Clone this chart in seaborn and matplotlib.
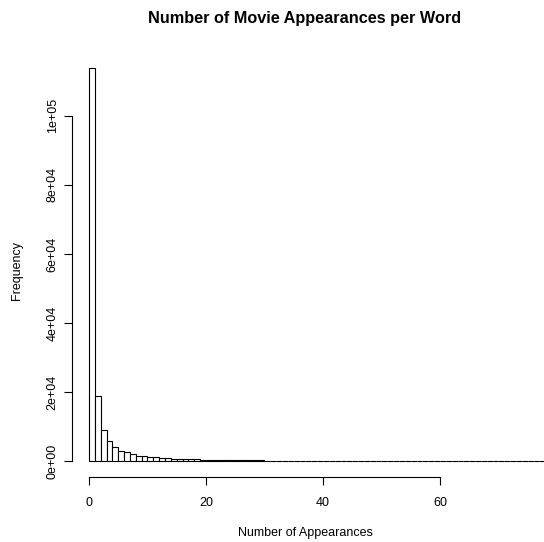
import matplotlib
matplotlib.use("Agg")
import matplotlib.pyplot as plt
import seaborn as sns
import numpy as np

sns.set_style("white")
plt.rcParams['font.family'] = ['Liberation Sans', 'DejaVu Sans']
plt.rcParams['text.color'] = 'black'
plt.rcParams['axes.labelcolor'] = 'black'
plt.rcParams['xtick.color'] = 'black'
plt.rcParams['ytick.color'] = 'black'

# Histogram bins of width 1 (right-closed, R style): (0,1], (1,2], ...
bin_edges = list(range(0, 81))
counts = [113900, 18800, 9000, 5800, 4200, 3100, 2600, 2050, 1650, 1450,
          1250, 1100, 950, 850, 760, 690, 620, 560, 510, 470,
          430, 400, 370, 340, 315, 295, 275, 255, 240, 225,
          212, 200, 190, 180, 170, 160, 152, 145, 138, 131,
          125, 119, 113, 108, 103, 98, 94, 90, 86, 82,
          79, 76, 73, 70, 67, 64, 62, 60, 58, 56,
          54, 52, 50, 48, 47, 45, 44, 42, 41, 40,
          39, 38, 37, 36, 35, 34, 33, 32, 31, 30]
x_ticks = [0, 20, 40, 60]
y_ticks = [0, 20000, 40000, 60000, 80000, 100000]
y_tick_labels = ["0e+00", "2e+04", "4e+04", "6e+04", "8e+04", "1e+05"]

centers = [e + 0.5 for e in bin_edges[:-1]]

fig = plt.figure(figsize=(5.44, 5.42), dpi=100)
ax = fig.add_axes([72/544, 1 - 477/542, 1 - 72/544, (477 - 52)/542])

sns.histplot(x=centers, weights=counts, bins=bin_edges, ax=ax,
             color="white", edgecolor="black", linewidth=0.8, alpha=1)

ax.set_xlim(-2.9, (544 - 89) / 5.85)
ax.set_ylim(-113900 * 0.04, 113900 * 1.04)

for s in ["top", "right"]:
    ax.spines[s].set_visible(False)
ax.spines["bottom"].set_bounds(0, 60)
ax.spines["left"].set_bounds(0, 100000)
for s in ["bottom", "left"]:
    ax.spines[s].set_color("black")
    ax.spines[s].set_linewidth(0.8)

ax.set_xticks(x_ticks)
ax.set_xticklabels([str(t) for t in x_ticks])
ax.set_yticks(y_ticks)
ax.set_yticklabels(y_tick_labels, rotation=90, va="center")
ax.tick_params(axis="both", direction="out", length=5.5, width=0.8,
               colors="black", labelsize=9, left=True, bottom=True)
ax.tick_params(axis="x", pad=9)
ax.tick_params(axis="y", pad=4)
ax.set_xlabel("")
ax.set_ylabel("")
ax.grid(False)

fig.text(305/544, 1 - 533/542, "Number of Appearances", ha="center", va="center", fontsize=9)
fig.text(17/544, 1 - 270/542, "Frequency", ha="center", va="center", rotation=90, fontsize=9)
fig.text(305/544, 1 - 19/542, "Number of Movie Appearances per Word", ha="center", va="center",
         fontsize=11.7, fontweight="bold")

fig.savefig("out.png", dpi=100, facecolor="white")
